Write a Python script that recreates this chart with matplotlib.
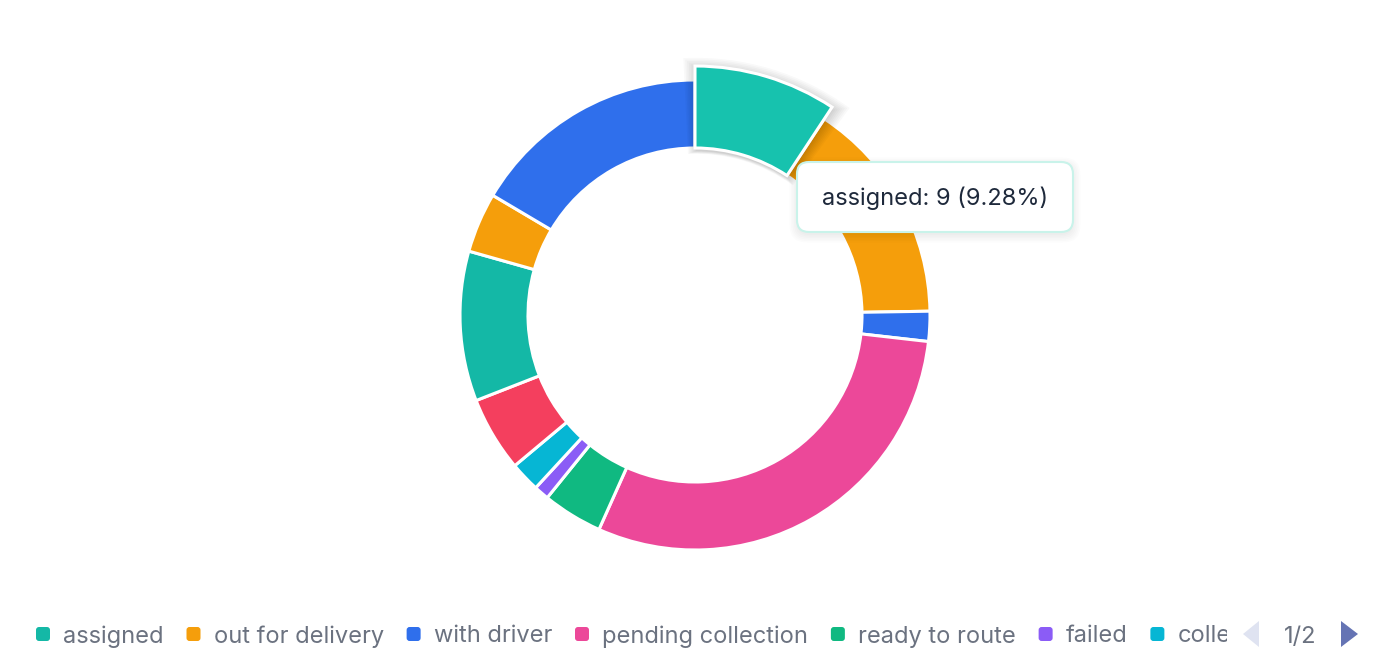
import matplotlib
matplotlib.use("Agg")
import matplotlib.pyplot as plt
from matplotlib.patches import Wedge, FancyBboxPatch, Rectangle, Polygon

plt.rcParams['font.family'] = ['Inter', 'DejaVu Sans']

labels = ["assigned", "out for delivery", "with driver", "pending collection",
          "ready to route", "failed", "collected", "returned", "delivered",
          "rescheduled", "in warehouse"]
values = [9, 15, 2, 29, 4, 1, 2, 5, 10, 4, 16]
colors = ["#14b8a6", "#f59e0b", "#2f6fec", "#ec4899", "#10b981", "#8b5cf6",
          "#06b6d4", "#f43f5e", "#14b8a6", "#f59e0b", "#2f6fec"]
legend_visible = 7
page_text = "1/2"

W, H = 1391, 656
fig = plt.figure(figsize=(W / 100, H / 100), dpi=100)
ax = fig.add_axes([0, 0, 1, 1])

cx, cy = 695, H - 315
R, r_in = 235, 167
wedges, _ = ax.pie(values, colors=colors, startangle=90, counterclock=False,
                   radius=R, center=(cx, cy),
                   wedgeprops=dict(width=R - r_in, edgecolor="white", linewidth=2.2))

# emphasised slice (assigned)
w0 = wedges[0]
w0.set_radius(249)
w0.set_width(249 - r_in)
w0.set_facecolor("#17c2ae")
w0.set_zorder(5)
for i in range(8):
    s = Wedge((cx + 1, cy - 3), 249 + i * 1.6, w0.theta1 - 0.4 * i, w0.theta2 + 0.4 * i,
              width=249 - r_in + i * 2.0, facecolor="#000000", alpha=0.022,
              edgecolor="none", zorder=4)
    ax.add_patch(s)

ax.set_xlim(0, W)
ax.set_ylim(0, H)
ax.set_aspect("auto")
ax.set_axis_off()

FS = 17

# tooltip
tx0, ty0, tw, th = 797, H - 232, 276, 70
for i in range(6):
    sh = FancyBboxPatch((tx0 - i * 1.5, ty0 - 3 - i * 1.5), tw + i * 3, th + i * 3,
                        boxstyle="round,pad=0,rounding_size=%g" % (12 + i),
                        facecolor="#000000", alpha=0.012, edgecolor="none", zorder=9)
    ax.add_patch(sh)
tip = FancyBboxPatch((tx0, ty0), tw, th, boxstyle="round,pad=0,rounding_size=12",
                     facecolor="white", edgecolor="#c9f3ea", linewidth=1.5, zorder=10)
ax.add_patch(tip)
total = sum(values)
ax.text(tx0 + tw / 2, ty0 + th / 2 - 1,
        f"{labels[0]}: {values[0]} ({values[0] / total * 100:.2f}%)",
        ha="center", va="center", fontsize=FS, color="#1e293b", zorder=11)

# legend
fig.canvas.draw()
renderer = fig.canvas.get_renderer()
ly = H - 634
x = 36
clip_right = 1227
for i in range(legend_visible):
    ax.add_patch(FancyBboxPatch((x, ly - 7), 14, 14,
                                boxstyle="round,pad=0,rounding_size=3",
                                facecolor=colors[i], edgecolor="none"))
    t = ax.text(x + 27, ly, labels[i], ha="left", va="center_baseline",
                fontsize=FS, color="#6b7280")
    clip = Rectangle((0, 0), clip_right, H, transform=ax.transData)
    t.set_clip_path(clip)
    t.set_clip_on(True)
    bb = t.get_window_extent(renderer)
    x = bb.x1 + 23

# pager
ax.add_patch(Polygon([[1259, ly + 13], [1259, ly - 13], [1243, ly]],
                     closed=True, facecolor="#dfe3f1", edgecolor="none"))
ax.text(1300, ly, page_text, ha="center", va="center_baseline",
        fontsize=FS, color="#6b7280")
ax.add_patch(Polygon([[1341, ly + 13], [1341, ly - 13], [1358, ly]],
                     closed=True, facecolor="#6574b4", edgecolor="none"))

fig.savefig("out.png", dpi=100, facecolor="white")
